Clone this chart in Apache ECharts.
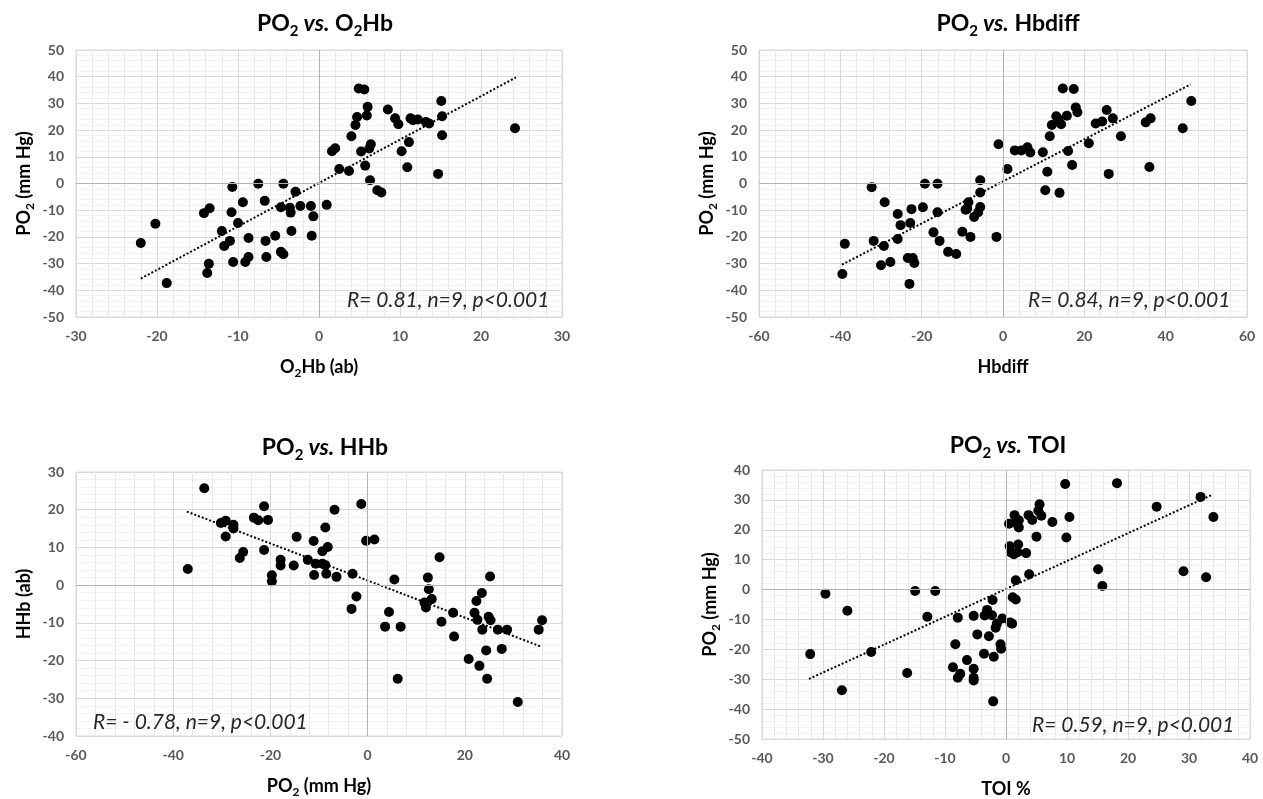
<!DOCTYPE html>
<html>
<head>
<meta charset="utf-8">
<title>PO2 correlations</title>
<script src="https://cdn.jsdelivr.net/npm/echarts@6/dist/echarts.min.js"></script>
<style>
  html, body { margin: 0; padding: 0; background: #fff; }
  #main { width: 1263px; height: 799px; }
</style>
</head>
<body>
<div id="main"></div>
<script>
// PO2 vs O2Hb
const o2hbX = [-22.0, -20.2, -18.8, -14.2, -13.5, -13.8, -13.6, -12.0, -11.7, -11.0, -10.7, -10.8, -10.0, -10.6, -9.4, -8.7, -9.1, -8.7, -7.5, -6.7, -6.6, -6.5, -5.4, -4.7, -4.4, -4.7, -4.4, -3.6, -3.5, -3.4, -2.9, -2.3, -1.0, -0.7, -0.9, 0.95, 1.6, 2.0, 2.5, 3.7, 4.0, 4.5, 4.7, 4.9, 5.6, 5.2, 5.7, 5.9, 6.0, 6.2, 6.4, 6.3, 7.2, 7.7, 8.5, 9.4, 9.8, 10.2, 10.9, 11.1, 11.3, 11.6, 12.2, 13.2, 13.6, 14.7, 15.1, 15.2, 15.2, 24.2];
const o2hbY = [-22.3, -15.1, -37.3, -11.1, -9.3, -33.5, -30.1, -17.8, -23.4, -21.5, -1.3, -10.8, -14.8, -29.4, -7.0, -20.4, -29.4, -27.5, -0.1, -6.5, -21.5, -27.5, -19.6, -8.9, -0.1, -25.6, -26.5, -9.1, -10.9, -17.8, -3.1, -8.4, -8.4, -12.3, -19.6, -8.0, 12.1, 13.2, 5.4, 4.7, 17.7, 21.9, 24.9, 35.6, 35.2, 12.0, 6.7, 25.5, 28.7, 13.1, 14.7, 1.2, -2.5, -3.4, 27.7, 24.4, 22.2, 12.1, 6.1, 15.5, 24.4, 23.7, 24.0, 23.0, 22.5, 3.6, 30.9, 25.2, 18.1, 20.7];
const o2hbTrendX = [-22.0, 24.3];
const o2hbTrendY = [-35.6, 39.7];

// PO2 vs Hbdiff
const hbdiffX = [-39.5, -38.9, -32.3, -31.8, -30.0, -29.3, -29.1, -27.7, -25.9, -25.2, -25.9, -23.4, -23.0, -22.8, -22.5, -22.2, -21.8, -19.7, -19.2, -17.1, -16.1, -16.1, -15.6, -13.5, -11.5, -10.0, -8.5, -8.8, -9.2, -8.0, -7.1, -5.6, -5.6, -5.6, -6.1, -1.6, -1.1, 1.1, 2.9, 4.5, 6.0, 6.7, 9.8, 10.4, 10.9, 11.5, 12.0, 13.1, 13.6, 14.3, 13.9, 14.7, 15.7, 16.0, 17.0, 17.4, 17.9, 18.3, 21.1, 22.8, 24.4, 25.5, 26.0, 27.0, 29.0, 35.1, 36.3, 36.0, 44.2, 46.3];
const hbdiffY = [-33.9, -22.6, -1.4, -21.5, -30.6, -23.4, -7.0, -29.4, -11.4, -15.6, -20.8, -27.9, -37.6, -14.8, -9.6, -27.9, -29.8, -8.9, -0.1, -18.3, -0.1, -10.8, -21.5, -25.6, -26.4, -18.1, -7.0, -9.4, -9.8, -20.0, -12.5, 1.2, -3.4, -8.8, -10.8, -20.0, 14.7, 5.4, 12.4, 12.4, 13.6, 11.6, 11.7, -2.5, 4.4, 17.7, 21.9, 25.2, 24.1, 22.2, -3.5, 35.6, 25.4, 12.2, 6.9, 35.4, 28.5, 26.7, 15.1, 22.5, 23.2, 27.5, 3.6, 24.4, 17.7, 22.9, 24.4, 6.2, 20.7, 30.9];
const hbdiffTrendX = [-39.6, 46.1];
const hbdiffTrendY = [-30.4, 37.1];

// PO2 vs HHb (PO2 on x)
const hhbX = [-37.0, -33.6, -30.2, -29.2, -29.2, -27.6, -27.6, -26.3, -25.6, -23.4, -22.5, -21.3, -21.3, -20.5, -19.7, -19.7, -17.9, -17.9, -15.2, -14.6, -12.3, -11.1, -11.0, -10.7, -9.3, -9.3, -8.7, -8.7, -8.5, -8.2, -6.8, -6.4, -3.1, -3.3, -2.3, -1.3, -0.3, 1.4, 3.6, 4.4, 5.5, 6.2, 6.8, 11.7, 12.0, 12.4, 12.6, 13.2, 14.8, 15.2, 17.6, 17.8, 20.8, 22.0, 22.4, 22.6, 23.0, 23.5, 23.6, 24.4, 24.6, 24.9, 25.3, 25.2, 26.8, 27.6, 28.7, 30.9, 35.2, 35.9];
const hhbY = [4.3, 25.7, 16.5, 17.1, 12.9, 16.0, 15.0, 7.2, 8.8, 17.9, 17.2, 20.9, 9.3, 17.3, 2.6, 1.0, 6.7, 5.2, 5.2, 12.8, 6.7, 11.7, 2.7, 5.7, 5.7, 9.0, 5.3, 15.3, 3.0, 10.1, 20.0, 2.2, 3.0, -6.3, -3.0, 21.5, 11.8, 12.1, -11.0, -7.1, 1.5, -24.8, -11.0, -4.6, -5.9, 2.0, -1.1, -3.7, 7.4, -9.7, -7.3, -13.6, -19.6, -7.3, -4.2, -9.2, -21.4, -2.1, -11.8, -17.3, -24.8, -8.4, -9.3, 2.3, -11.8, -16.9, -11.8, -31.0, -11.8, -9.3];
const hhbTrendX = [-37.2, 35.5];
const hhbTrendY = [19.5, -16.2];

// PO2 vs TOI
const toiX = [-32.1, -29.6, -26.9, -26.0, -22.1, -16.2, -14.9, -12.9, -11.6, -8.7, -8.3, -7.9, -7.9, -7.5, -6.4, -5.3, -5.3, -5.3, -5.3, -4.7, -3.6, -3.5, -3.1, -2.8, -2.3, -2.2, -2.1, -2.0, -1.7, -1.5, -0.9, -0.8, -0.6, 0.5, 0.6, 0.7, 1.0, 0.8, 1.1, 1.3, 1.4, 1.5, 1.6, 1.6, 1.9, 2.0, 2.1, 2.1, 3.3, 3.7, 3.8, 4.3, 5.0, 5.3, 5.5, 5.8, 7.6, 9.7, 9.9, 10.4, 15.1, 15.8, 18.2, 24.7, 29.1, 31.9, 32.8, 34.0];
const toiY = [-21.6, -1.4, -33.7, -7.1, -20.9, -27.9, -0.5, -9.1, -0.5, -26.0, -18.3, -9.4, -29.5, -28.2, -23.6, -8.8, -26.5, -29.5, -30.4, -15.0, -21.5, -8.7, -6.8, -15.6, -8.6, -3.5, -37.4, -22.5, -12.8, -11.4, -18.3, -19.8, -9.7, 22.0, 14.5, -11.0, -11.4, 12.4, -2.6, 11.8, 24.9, 22.4, -3.3, 3.1, 12.5, 15.1, 20.8, 23.2, 12.2, 24.9, 5.1, 23.3, 17.7, 26.4, 28.5, 24.7, 22.6, 35.3, 17.4, 24.3, 6.8, 1.2, 35.6, 27.7, 6.1, 31.0, 4.1, 24.3];
const toiTrendX = [-32.3, 33.9];
const toiTrendY = [-29.9, 31.8];

const titles = ['{n|PO}{s|2}{i| vs.}{n| O}{s|2}{n|Hb}', '{n|PO}{s|2}{i| vs.}{n| Hbdiff}',
  '{n|PO}{s|2}{i| vs.}{n| HHb}', '{n|PO}{s|2}{i| vs.}{n| TOI}'];
const xNames = ['{n|O}{s|2}{n|Hb (ab)}', '{n|Hbdiff}', '{n|PO}{s|2}{n| (mm Hg)}', '{n|TOI %}'];
const yNames = ['{n|PO}{s|2}{n| (mm Hg)}', '{n|PO}{s|2}{n| (mm Hg)}', '{n|HHb (ab)}', '{n|PO}{s|2}{n| (mm Hg)}'];
const stats = ['R= 0.81, n=9, p<0.001', 'R= 0.84, n=9, p<0.001', 'R= - 0.78, n=9, p<0.001', 'R= 0.59, n=9, p<0.001'];
const xRanges = [[-30, 30, 10], [-60, 60, 20], [-60, 40, 20], [-40, 40, 10]];
const yRanges = [[-50, 50, 10], [-50, 50, 10], [-40, 30, 10], [-50, 40, 10]];

const FONT = 'Lato, "Open Sans", sans-serif';
const grids = [
  { left: 76, top: 50, width: 486, height: 267 },
  { left: 759, top: 50, width: 488, height: 267 },
  { left: 76, top: 472, width: 486, height: 268 },
  { left: 762, top: 470, width: 488, height: 272 }
];
const titlePos = [[320, 4], [1003, 4], [320, 428], [1003, 426]];
const statPos = [[342, 285], [1023, 285], [88, 707], [1027, 710]];

const panels = [
  [o2hbX, o2hbY, o2hbTrendX, o2hbTrendY],
  [hbdiffX, hbdiffY, hbdiffTrendX, hbdiffTrendY],
  [hhbX, hhbY, hhbTrendX, hhbTrendY],
  [toiX, toiY, toiTrendX, toiTrendY]
];

function zip(xs, ys) {
  return xs.map(function (x, i) { return [x, ys[i]]; });
}

const nameRich = {
  n: { fontFamily: FONT, fontSize: 18, fontWeight: 'bold', color: '#000', lineHeight: 24 },
  s: { fontFamily: FONT, fontSize: 12, fontWeight: 'bold', color: '#000', lineHeight: 12, verticalAlign: 'bottom' }
};
const titleRich = {
  n: { fontFamily: FONT, fontSize: 23, fontWeight: 'bold', color: '#000', lineHeight: 30 },
  i: { fontFamily: FONT, fontSize: 23, fontWeight: 'bold', fontStyle: 'italic', color: '#000', lineHeight: 30 },
  s: { fontFamily: FONT, fontSize: 15, fontWeight: 'bold', color: '#000', lineHeight: 15, verticalAlign: 'bottom' }
};

const chart = echarts.init(document.getElementById('main'), null, { renderer: 'canvas' });

const titleItems = titles.map(function (t, i) {
  return {
    text: t, left: titlePos[i][0], top: titlePos[i][1], textAlign: 'center',
    textStyle: { rich: titleRich }
  };
});
const statItems = stats.map(function (s, i) {
  return {
    text: s, left: statPos[i][0], top: statPos[i][1],
    textStyle: { fontFamily: FONT, fontSize: 21, fontStyle: 'italic', fontWeight: 'normal', color: '#262626' }
  };
});

const option = {
  backgroundColor: '#fff',
  animation: false,
  title: titleItems.concat(statItems),
  grid: grids.map(function (g) {
    return Object.assign({ show: true, borderColor: '#d9d9d9', borderWidth: 1, backgroundColor: 'transparent' }, g);
  }),
  xAxis: xRanges.map(function (r, i) {
    return {
      type: 'value', gridIndex: i, min: r[0], max: r[1], interval: r[2],
      name: xNames[i], nameLocation: 'middle', nameGap: 38,
      nameTextStyle: { rich: nameRich },
      axisLine: { show: false }, axisTick: { show: false },
      axisLabel: { color: '#595959', fontFamily: FONT, fontWeight: 'bold', fontSize: 14, margin: 12 },
      splitLine: { show: true, lineStyle: { color: '#d9d9d9', width: 1 } },
      minorTick: { show: false, splitNumber: 5 },
      minorSplitLine: { show: true, lineStyle: { color: '#e8e8e8', width: 1 } }
    };
  }),
  yAxis: yRanges.map(function (r, i) {
    return {
      type: 'value', gridIndex: i, min: r[0], max: r[1], interval: r[2],
      name: yNames[i], nameLocation: 'middle', nameGap: 40, nameRotate: 90,
      nameTextStyle: { rich: nameRich },
      axisLine: { show: false }, axisTick: { show: false },
      axisLabel: { color: '#595959', fontFamily: FONT, fontWeight: 'bold', fontSize: 14, margin: 12 },
      splitLine: { show: true, lineStyle: { color: '#d9d9d9', width: 1 } },
      minorTick: { show: false, splitNumber: 5 },
      minorSplitLine: { show: true, lineStyle: { color: '#f3f3f3', width: 1 } }
    };
  }),
  series: []
};

panels.forEach(function (p, i) {
  option.series.push({
    type: 'scatter', xAxisIndex: i, yAxisIndex: i,
    data: zip(p[0], p[1]),
    symbol: 'circle', symbolSize: 10,
    itemStyle: { color: '#000', opacity: 1 },
    z: 3,
    markLine: {
      silent: true, symbol: 'none', animation: false,
      label: { show: false },
      lineStyle: { color: '#b3b3b3', type: 'solid', width: 1 },
      data: [{ xAxis: 0 }, { yAxis: 0 }]
    }
  });
  option.series.push({
    type: 'line', xAxisIndex: i, yAxisIndex: i,
    data: zip(p[2], p[3]),
    symbol: 'none', silent: true,
    lineStyle: { color: '#000', width: 2, type: [2, 2] },
    z: 4
  });
});

chart.setOption(option);
</script>
</body>
</html>
